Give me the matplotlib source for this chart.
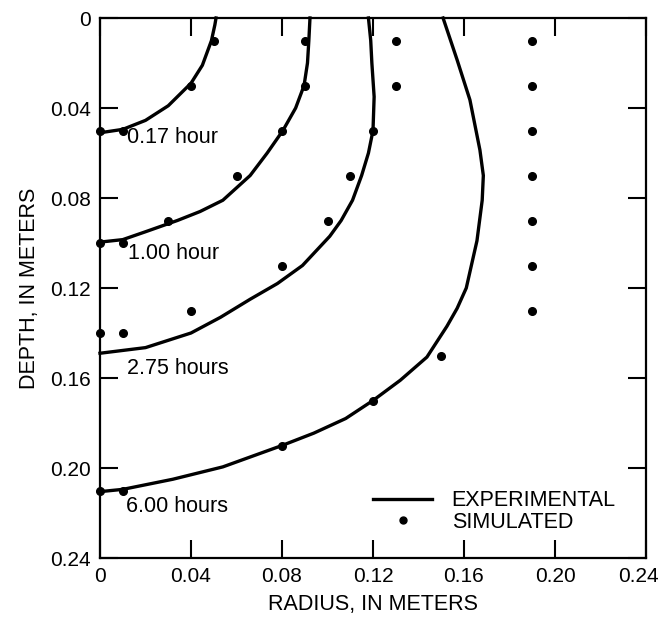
import numpy as np
import matplotlib
matplotlib.use("Agg")
import matplotlib.pyplot as plt
import matplotlib.transforms as mtransforms
from matplotlib.lines import Line2D

plt.rcParams['font.family'] = ['Liberation Sans', 'DejaVu Sans']

# experimental curves (radius, depth)
exp_017_r = [0, 0.01, 0.02, 0.03, 0.04, 0.045, 0.049, 0.0505, 0.051]
exp_017_d = [0.051, 0.0495, 0.0455, 0.039, 0.029, 0.021, 0.010, 0.003, 0.0]

exp_100_r = [0, 0.01, 0.02, 0.034, 0.044, 0.054, 0.066, 0.0735, 0.0804, 0.086, 0.0897,
             0.0912, 0.0918, 0.0923]
exp_100_d = [0.0996, 0.0985, 0.095, 0.09, 0.086, 0.081, 0.07, 0.06, 0.05, 0.04, 0.03,
             0.02, 0.01, 0.0]

exp_275_r = [0, 0.02, 0.04, 0.053, 0.066, 0.078, 0.089, 0.101, 0.106, 0.111, 0.115, 0.118,
             0.12, 0.1205, 0.1195, 0.119, 0.118]
exp_275_d = [0.149, 0.1465, 0.14, 0.133, 0.125, 0.118, 0.11, 0.097, 0.09, 0.081, 0.07, 0.06,
             0.05, 0.035, 0.02, 0.01, 0.0]

exp_600_r = [0, 0.01, 0.032, 0.054, 0.08, 0.094, 0.108, 0.12, 0.132, 0.1437, 0.1525, 0.157,
             0.161, 0.1657, 0.168, 0.1685, 0.167, 0.1626, 0.157, 0.1508]
exp_600_d = [0.2105, 0.2095, 0.205, 0.1995, 0.19, 0.1845, 0.178, 0.17, 0.161, 0.1507, 0.137,
             0.129, 0.12, 0.099, 0.081, 0.07, 0.0587, 0.0364, 0.0187, 0.0]

# simulated points
sim_r = [0, 0.01, 0.04, 0.05,
         0, 0.01, 0.03, 0.06, 0.08, 0.09, 0.09,
         0, 0.01, 0.04, 0.08, 0.10, 0.11, 0.12, 0.13, 0.13,
         0, 0.01, 0.08, 0.12, 0.15, 0.19, 0.19, 0.19, 0.19, 0.19, 0.19, 0.19]
sim_d = [0.05, 0.05, 0.03, 0.01,
         0.10, 0.10, 0.09, 0.07, 0.05, 0.03, 0.01,
         0.14, 0.14, 0.13, 0.11, 0.09, 0.07, 0.05, 0.03, 0.01,
         0.21, 0.21, 0.19, 0.17, 0.15, 0.13, 0.11, 0.09, 0.07, 0.05, 0.03, 0.01]

time_labels = ["0.17 hour", "1.00 hour", "2.75 hours", "6.00 hours"]
label_r = [0.0118, 0.0123, 0.0119, 0.0114]
label_d = [0.0533, 0.1045, 0.1556, 0.2173]

ticks = [0, 0.04, 0.08, 0.12, 0.16, 0.20, 0.24]
tick_labels = ["0", "0.04", "0.08", "0.12", "0.16", "0.20", "0.24"]

fig = plt.figure(figsize=(6.64, 6.19), dpi=100)
ax = fig.add_axes([100 / 664, 61 / 619, 546 / 664, 540 / 619])

for r, d in [(exp_017_r, exp_017_d), (exp_100_r, exp_100_d),
             (exp_275_r, exp_275_d), (exp_600_r, exp_600_d)]:
    ax.plot(r, d, color="black", lw=2.4, solid_joinstyle="round", clip_on=False)

ax.plot(sim_r, sim_d, "o", color="black", ms=5.5, ls="none", clip_on=False)

for t, x, y in zip(time_labels, label_r, label_d):
    ax.text(x, y, t, fontsize=15.5, va="center", ha="left")

ax.set_xlim(0, 0.24)
ax.set_ylim(0.24, 0)
ax.set_xticks(ticks)
ax.set_xticklabels(tick_labels)
ax.set_yticks(ticks)
ax.set_yticklabels(tick_labels)
ax.tick_params(direction="in", length=13, width=1.5, top=True, right=True,
               labelsize=15, pad=6.5)
for s in ax.spines.values():
    s.set_linewidth(1.6)

# last x label sits a bit left of its tick, as in the original
last = ax.get_xticklabels()[-1]
last.set_transform(last.get_transform() +
                   mtransforms.ScaledTranslation(-8 / 100, 0, fig.dpi_scale_trans))

ax.set_xlabel("RADIUS, IN METERS", fontsize=15.5, labelpad=6)
ax.set_ylabel("DEPTH, IN METERS", fontsize=15.5, labelpad=7)

handles = [Line2D([], [], color="black", lw=2.4),
           Line2D([], [], marker="o", color="black", ls="none", ms=5)]
ax.legend(handles, ["EXPERIMENTAL", "SIMULATED"], loc="upper left",
          bbox_to_anchor=(0.5, 0.125), frameon=False, fontsize=15.5,
          handlelength=2.75, handletextpad=0.9, labelspacing=0.0,
          borderpad=0, borderaxespad=0)

fig.savefig("out.png", dpi=100)
